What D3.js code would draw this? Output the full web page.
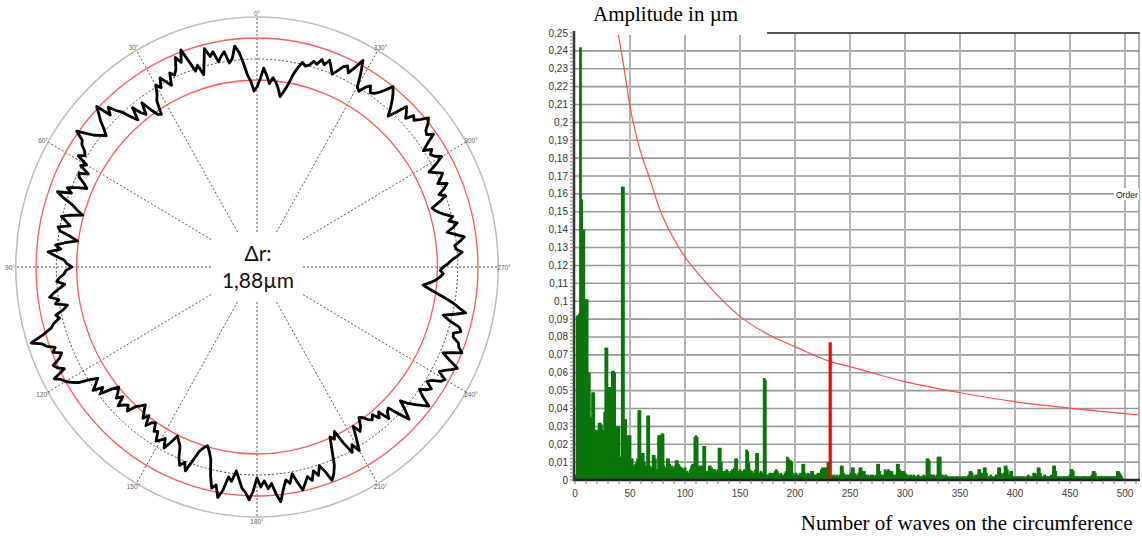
<!DOCTYPE html>
<html><head><meta charset="utf-8">
<script src="https://cdn.jsdelivr.net/npm/d3@7/dist/d3.min.js"></script>
<style>body{margin:0;background:#fff}svg{display:block}</style>
</head><body>
<svg id="c" width="1142" height="538"></svg>
<script>
// ---------- DATA ----------
// Polar roundness plot
const angleLabels = [0,30,60,90,120,150,180,210,240,270,300,330];
const profileStep = 1; // degrees, counter-clockwise from top
const profileRadius = [
180,176,186,193,205,216,222,210,206,218, 214,209,220,216,225,212,200,211,206,218,
231,219,226,215,210,214,202,208,214,205, 210,201,196,182,184,192,203,191,196,205,
192,199,208,214,222,215,231,224,218,210, 204,209,214,222,231,221,219,213,210,216,
204,209,198,207,205,198,193,203,212,206, 220,212,201,195,188,200,209,203,198,210,
207,196,188,200,210,204,217,209,200,197, 192,198,200,205,208,200,206,212,217,208,
212,200,205,214,211,218,222,232,246,236, 232,224,228,220,224,233,230,224,238,232,
229,224,218,207,199,204,210,200,206,194, 187,191,196,190,200,195,192,197,188,184,
180,186,192,186,196,190,188,196,194,203, 200,196,205,197,188,192,196,207,214,209,
217,205,194,189,186,191,198,214,226,222, 234,226,212,216,205,213,222,226,233,224,
211,220,214,222,217,228,236,224,215,219, 210,219,228,222,216,221,212,218,209,216,
227,222,214,199,186,190,183,198,210,203, 212,200,188,196,192,184,186,191,194,190,
197,192,204,198,196,208,219,210,200,208, 214,220,226,215,208,214,218,210,214,222,
225,216,220,226,231,220,211,219,229,224, 222,215,214,221,218,206,199,210,221,213,
206,197,188,180,173,180,186,190,193,190, 193,198,202,208,213,207,206,212,217,208,
200,207,212,204,209,202,197,193,191,200, 208,202,209,214,205,210,214,208,202,212,
221,215,212,216,208,216,226,220,222,228, 232,225,219,222,214,219,223,212,203,211,
218,224,229,222,216,212,210,216,212,205, 208,222,234,224,216,222,219,213,208,214,
220,214,218,212,214,209,207,210,204,196, 185,178,172,180,186,190,184,192,199,188
];
const innerLimit = 187, meanRadius = 208, outerLimit = 229, frameRadius = 250;
const deltaR = ["Δr:", "1,88µm"];

// Spectrum (amplitude per order, orders 1..512)
const spectrumAmp = [
0.003,0.092,0.092,0.093,0.242,0.157,0.140,0.140,0.101,0.101,
0.101,0.060,0.060,0.035,0.035,0.049,0.049,0.028,0.028,0.028,
0.028,0.032,0.032,0.031,0.028,0.027,0.038,0.074,0.074,0.052,
0.052,0.052,0.052,0.061,0.061,0.060,0.012,0.030,0.030,0.030,
0.012,0.013,0.164,0.164,0.034,0.034,0.012,0.025,0.025,0.025,
0.012,0.012,0.008,0.008,0.009,0.010,0.012,0.039,0.039,0.012,
0.015,0.015,0.010,0.008,0.008,0.036,0.036,0.008,0.002,0.007,
0.014,0.014,0.012,0.006,0.006,0.025,0.025,0.025,0.026,0.026,
0.008,0.006,0.007,0.012,0.012,0.009,0.006,0.008,0.007,0.006,
0.008,0.011,0.011,0.009,0.008,0.007,0.007,0.005,0.006,0.007,
0.004,0.005,0.003,0.004,0.006,0.008,0.009,0.006,0.024,0.025,
0.024,0.006,0.008,0.005,0.008,0.008,0.019,0.019,0.005,0.004,
0.005,0.008,0.008,0.007,0.006,0.005,0.006,0.004,0.005,0.006,
0.018,0.018,0.010,0.005,0.004,0.005,0.004,0.006,0.005,0.004,
0.003,0.005,0.006,0.005,0.007,0.012,0.012,0.005,0.004,0.006,
0.003,0.005,0.004,0.006,0.005,0.017,0.016,0.010,0.006,0.004,
0.005,0.003,0.004,0.006,0.015,0.015,0.004,0.003,0.005,0.004,
0.003,0.057,0.056,0.003,0.002,0.003,0.004,0.004,0.003,0.004,
0.003,0.005,0.006,0.005,0.003,0.003,0.004,0.003,0.002,0.003,
0.004,0.005,0.013,0.012,0.011,0.011,0.010,0.004,0.003,0.003,
0.004,0.003,0.002,0.003,0.004,0.003,0.009,0.009,0.004,0.003,
0.003,0.004,0.003,0.003,0.005,0.005,0.003,0.002,0.003,0.003,
0.004,0.003,0.004,0.006,0.007,0.006,0.007,0.006,0.007,0.010,
0.003,0.003,0.002,0.002,0.003,0.002,0.002,0.003,0.002,0.002,
0.003,0.008,0.008,0.004,0.003,0.002,0.003,0.003,0.002,0.003,
0.004,0.007,0.007,0.004,0.003,0.002,0.003,0.004,0.007,0.007,
0.005,0.005,0.005,0.003,0.002,0.003,0.002,0.002,0.003,0.002,
0.003,0.002,0.002,0.003,0.009,0.009,0.005,0.003,0.002,0.003,
0.003,0.006,0.005,0.005,0.006,0.005,0.004,0.005,0.003,0.003,
0.002,0.003,0.009,0.009,0.006,0.004,0.005,0.005,0.005,0.004,
0.003,0.003,0.002,0.002,0.003,0.002,0.002,0.003,0.002,0.002,
0.002,0.003,0.002,0.002,0.002,0.002,0.003,0.002,0.002,0.012,
0.012,0.011,0.003,0.003,0.002,0.003,0.002,0.002,0.003,0.013,
0.013,0.013,0.003,0.003,0.002,0.002,0.003,0.002,0.002,0.002,
0.001,0.002,0.002,0.001,0.002,0.001,0.002,0.002,0.001,0.002,
0.001,0.002,0.002,0.002,0.001,0.002,0.002,0.003,0.005,0.005,
0.004,0.002,0.002,0.003,0.002,0.003,0.006,0.006,0.004,0.003,
0.004,0.007,0.007,0.004,0.002,0.002,0.002,0.003,0.002,0.001,
0.002,0.002,0.003,0.003,0.007,0.007,0.004,0.003,0.003,0.004,
0.008,0.008,0.006,0.003,0.003,0.005,0.005,0.002,0.002,0.002,
0.001,0.002,0.002,0.002,0.001,0.002,0.002,0.002,0.001,0.002,
0.002,0.003,0.002,0.002,0.002,0.002,0.004,0.004,0.003,0.003,
0.007,0.007,0.004,0.002,0.002,0.002,0.003,0.002,0.002,0.002,
0.002,0.002,0.003,0.002,0.008,0.008,0.005,0.002,0.002,0.002,
0.002,0.001,0.002,0.002,0.002,0.002,0.002,0.002,0.002,0.003,
0.006,0.006,0.005,0.002,0.002,0.002,0.002,0.002,0.002,0.001,
0.002,0.002,0.002,0.002,0.002,0.002,0.002,0.002,0.002,0.003,
0.005,0.005,0.004,0.002,0.002,0.002,0.002,0.002,0.002,0.002,
0.002,0.002,0.002,0.002,0.002,0.002,0.002,0.002,0.002,0.002,
0.002,0.002,0.005,0.005,0.004,0.003,0.002,0.0005,0.0005,0.0005,
0.0005,0.0005,0.0005,0.0005,0.0005,0.0005,0.0005,0.0005,0.0005,0.0005,
0.0005,0.0005
];
const markerOrder = 232, markerAmp = 0.077;
const limitOrders = [39.4,43.9,50,57.6,68.2,76.7,95.5,119.7,150,180,200,232,250,300,350,400,450,512];
const limitAmps   = [0.249,0.233,0.209,0.188,0.168,0.152,0.129,0.110,0.0915,0.080,0.0746,0.0662,0.0634,0.055,0.0488,0.0438,0.0402,0.0364];
const yTickValues = d3.range(0, 26).map(i => i / 100);
const yTickLabels = ["0","0,01","0,02","0,03","0,04","0,05","0,06","0,07","0,08","0,09","0,1","0,11","0,12","0,13","0,14","0,15","0,16","0,17","0,18","0,19","0,2","0,21","0,22","0,23","0,24","0,25"];
const xTickValues = [0,50,100,150,200,250,300,350,400,450,500];
const xTickLabels = ["0","50","100","150","200","250","300","350","400","450","500"];
const titleY = "Amplitude in µm";
const titleX = "Number of waves on the circumference";
const curveLabel = "Order";

// ---------- POLAR ----------
const svg = d3.select("#c");
const cx = 257, cy = 267, SX = 0.965;
const rs = d3.scaleLinear().domain([0, frameRadius]).range([0, 250]);
const P = svg.append("g");
const px = (a, r) => cx - rs(r) * SX * Math.sin(a * Math.PI / 180);
const py = (a, r) => cy - rs(r) * Math.cos(a * Math.PI / 180);

P.append("ellipse").attr("cx", cx).attr("cy", cy).attr("rx", rs(frameRadius)*SX).attr("ry", rs(frameRadius))
  .attr("fill", "none").attr("stroke", "#bcbcbc").attr("stroke-width", 1.5);
angleLabels.forEach(a => {
  const x1 = px(a, frameRadius), y1 = py(a, frameRadius);
  const dx = x1 - cx, dy = y1 - cy;
  const t = Math.min(Math.abs(dx) > 0.01 ? 46/Math.abs(dx) : 9, Math.abs(dy) > 0.01 ? 35/Math.abs(dy) : 9);
  P.append("line").attr("x1", cx + dx*t).attr("y1", cy + dy*t).attr("x2", x1).attr("y2", y1)
    .attr("stroke", "#555").attr("stroke-width", 1).attr("stroke-dasharray", "2,2");
});
P.append("ellipse").attr("cx", cx).attr("cy", cy).attr("rx", rs(meanRadius)*SX).attr("ry", rs(meanRadius))
  .attr("fill", "none").attr("stroke", "#444").attr("stroke-width", 1).attr("stroke-dasharray", "2,2");
[innerLimit, outerLimit].forEach(r => {
  P.append("ellipse").attr("cx", cx).attr("cy", cy).attr("rx", rs(r)*SX).attr("ry", rs(r))
    .attr("fill", "none").attr("stroke", "#ff5a5a").attr("stroke-width", 1.3);
});
angleLabels.forEach(a => {
  P.append("text").attr("x", px(a, 256)).attr("y", py(a, 254)).attr("text-anchor", "middle")
    .attr("dominant-baseline", "central").attr("font-family", "Liberation Sans, Arial").attr("font-size", 6.5)
    .attr("fill", "#606060").text(a + "°");
});
const profile = profileRadius.map((r, i) => ({a: i * profileStep, r}));
P.append("path").datum(profile)
  .attr("d", d3.line().x(d => px(d.a, d.r)).y(d => py(d.a, d.r)).curve(d3.curveLinearClosed))
  .attr("fill", "none").attr("stroke", "#000").attr("stroke-width", 2.8).attr("stroke-linejoin", "round");
P.append("text").attr("x", 258).attr("y", 261).attr("text-anchor", "middle")
  .attr("font-family", "Lato, sans-serif").attr("font-size", 21).attr("fill", "#111").text(deltaR[0]);
P.append("text").attr("x", 258).attr("y", 288).attr("text-anchor", "middle")
  .attr("font-family", "Lato, sans-serif").attr("font-size", 21).attr("fill", "#111").text(deltaR[1]);

// ---------- SPECTRUM ----------
const L = 575, R = 1139, T = 33, B = 480;
const xs = d3.scaleLinear().domain([0, 512.7]).range([L, R]);
const ys = d3.scaleLinear().domain([0, 0.25]).range([B, T]);
const S = svg.append("g");
S.selectAll(".hg").data(yTickValues.filter(v => v > 0 && v < 0.25)).join("line")
  .attr("x1", L).attr("x2", R).attr("y1", d => ys(d)).attr("y2", d => ys(d))
  .attr("stroke", "#999").attr("stroke-width", 1.6);
S.selectAll(".vg").data(xTickValues.filter(v => v > 0)).join("line")
  .attr("x1", d => xs(d)).attr("x2", d => xs(d)).attr("y1", T).attr("y2", B)
  .attr("stroke", "#b3b3b3").attr("stroke-width", 2);
S.append("line").attr("x1", R).attr("x2", R).attr("y1", T).attr("y2", B).attr("stroke", "#999").attr("stroke-width", 1.5);
S.append("line").attr("x1", 767).attr("x2", R + 0.75).attr("y1", T).attr("y2", T).attr("stroke", "#555").attr("stroke-width", 2);

const clipId = "plotclip";
svg.append("clipPath").attr("id", clipId).append("rect").attr("x", L).attr("y", T).attr("width", R - L).attr("height", B - T);

S.selectAll(".bar").data(spectrumAmp.map((v, i) => ({o: i + 1, v}))).join("rect")
  .attr("x", d => xs(d.o) - 1.4).attr("width", 2.8)
  .attr("y", d => ys(d.v)).attr("height", d => B - ys(d.v))
  .attr("fill", "#0a760a");
S.append("path").datum(limitOrders.map((o, i) => [o, limitAmps[i]]))
  .attr("clip-path", `url(#${clipId})`)
  .attr("d", d3.line().x(d => xs(d[0])).y(d => ys(d[1])).curve(d3.curveMonotoneX))
  .attr("fill", "none").attr("stroke", "#ff4d4d").attr("stroke-width", 1.2);
S.append("rect").attr("x", xs(markerOrder) - 1.6).attr("width", 3.2)
  .attr("y", ys(markerAmp)).attr("height", B - ys(markerAmp)).attr("fill", "#ff0000");

S.append("rect").attr("x", L + 2).attr("y", 0).attr("width", 767 - L - 2).attr("height", 35).attr("fill", "#fff");
S.append("text").attr("x", 593).attr("y", 21).attr("font-family", "Liberation Serif, Times New Roman, serif")
  .attr("font-size", 21).attr("fill", "#000").text(titleY);

S.append("line").attr("x1", L - 1).attr("x2", L - 1).attr("y1", 31).attr("y2", B + 1).attr("stroke", "#333").attr("stroke-width", 2.5);
S.append("line").attr("x1", L - 2).attr("x2", R + 1).attr("y1", B).attr("y2", B).attr("stroke", "#222").attr("stroke-width", 2.5);
const minorY = d3.range(0, 126).map(i => i * 0.002);
S.selectAll(".mty").data(minorY).join("line")
  .attr("x1", L - 5).attr("x2", L - 1).attr("y1", d => ys(d)).attr("y2", d => ys(d))
  .attr("stroke", "#666").attr("stroke-width", 0.8);
S.selectAll(".tyl").data(yTickValues).join("text")
  .attr("x", 568).attr("y", d => ys(d)).attr("text-anchor", "end").attr("dominant-baseline", "central")
  .attr("font-family", "Liberation Sans, Arial").attr("font-size", 10).attr("fill", "#333")
  .text((d, i) => yTickLabels[i]);
const minorX = d3.range(0, 52).map(i => i * 10);
S.selectAll(".mtx").data(minorX).join("line")
  .attr("x1", d => xs(d)).attr("x2", d => xs(d)).attr("y1", B).attr("y2", B + 4)
  .attr("stroke", "#666").attr("stroke-width", 0.8);
S.selectAll(".txl").data(xTickValues).join("text")
  .attr("x", d => xs(d)).attr("y", 493).attr("text-anchor", "middle").attr("dominant-baseline", "central")
  .attr("font-family", "Liberation Sans, Arial").attr("font-size", 10).attr("fill", "#444")
  .text((d, i) => xTickLabels[i]);
S.append("rect").attr("x", 1114).attr("y", 188).attr("width", 25).attr("height", 12).attr("fill", "#fff");
S.append("text").attr("x", 1116).attr("y", 194.5).attr("dominant-baseline", "central")
  .attr("font-family", "Liberation Sans, Arial").attr("font-size", 8.5).attr("fill", "#222").text(curveLabel);
S.append("text").attr("x", 1132.5).attr("y", 530).attr("text-anchor", "end")
  .attr("font-family", "Liberation Serif, Times New Roman, serif").attr("font-size", 21).attr("fill", "#000").text(titleX);
</script>
</body></html>
